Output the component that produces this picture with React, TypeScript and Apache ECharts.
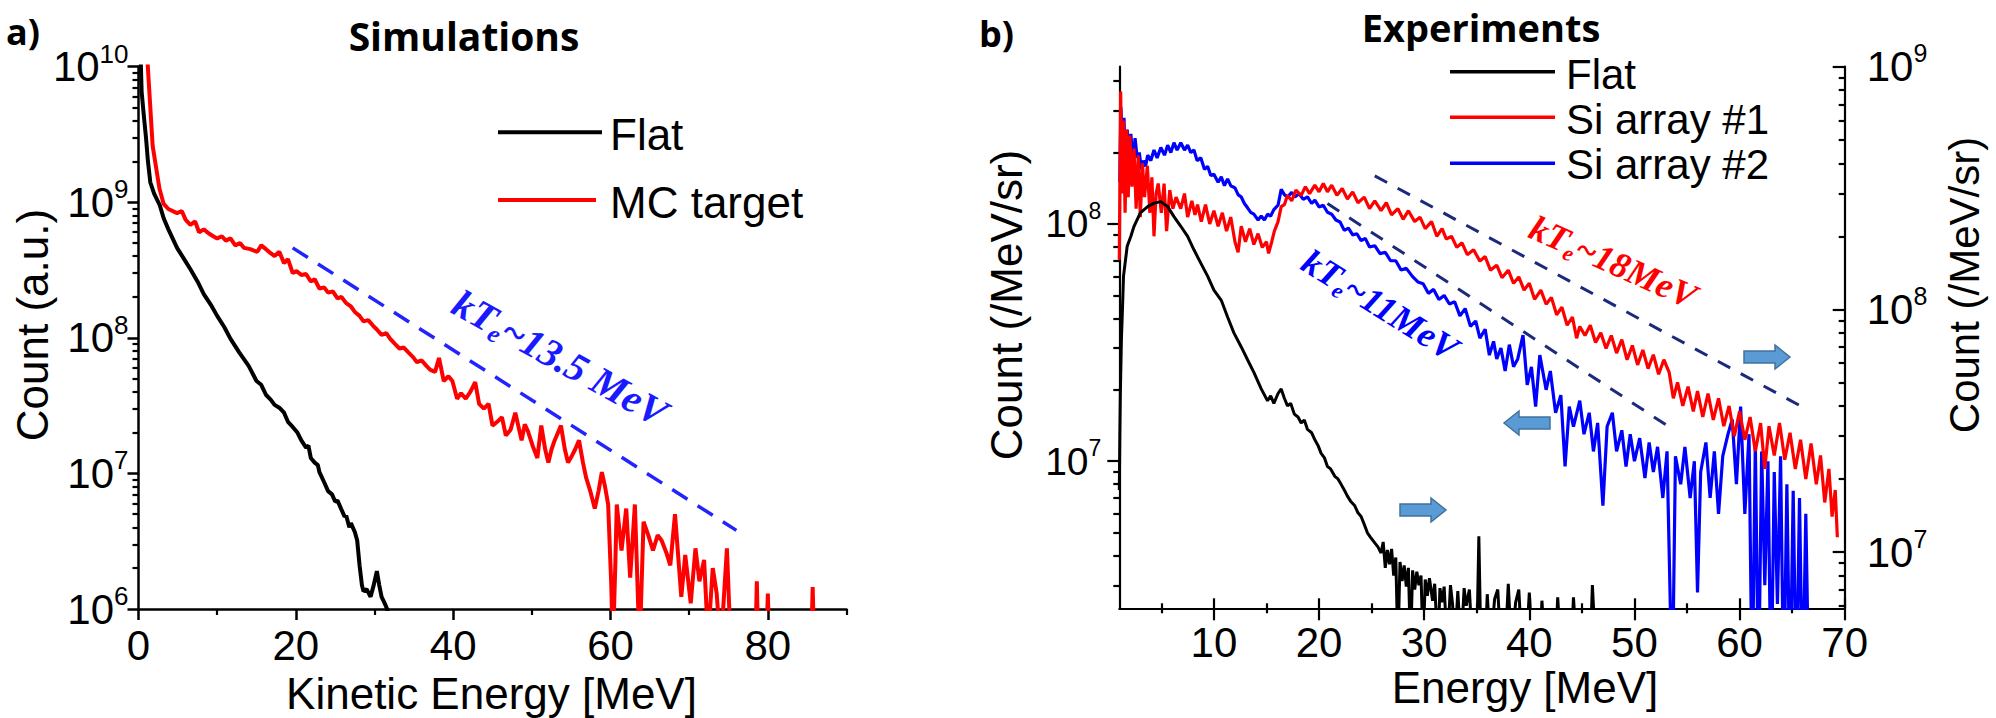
import React, { useEffect, useRef } from "react";
import * as echarts from "echarts";

// ---------- Panel a) Simulations : [Kinetic energy (MeV), count (a.u.)] ----------
const simFlat: [number, number][] = [
  [0.25, 1.3e10], [0.4, 6.5e9], [0.7, 4.2e9], [0.95, 3.0e9], [1.2, 2.0e9], [1.5, 1.4e9], [2.0, 1.15e9],
  [2.7, 9.5e8], [3.2, 7.6e8], [3.8, 6.3e8], [4.9, 4.6e8], [5.8, 3.8e8], [6.6, 3.2e8], [7.5, 2.6e8],
  [8.3, 2.1e8], [9.2, 1.75e8], [10.0, 1.45e8], [10.9, 1.2e8], [11.7, 9.8e7], [12.8, 7.8e7], [14.0, 6.2e7],
  [15.0, 4.8e7], [15.6, 4.5e7], [16.2, 3.8e7], [16.8, 3.5e7], [17.3, 3.2e7], [17.9, 3.05e7], [18.5, 2.8e7],
  [19.0, 2.4e7], [19.6, 2.2e7], [20.2, 2.0e7], [20.7, 1.75e7], [21.3, 1.55e7], [21.6, 1.6e7], [21.9, 1.3e7],
  [22.4, 1.2e7], [22.8, 1.15e7], [23.0, 1.02e7], [23.6, 8.6e6], [24.1, 7.4e6], [24.6, 7.0e6], [25.0, 6.2e6],
  [25.3, 6.3e6], [25.8, 5.4e6], [26.2, 4.8e6], [26.4, 4.9e6], [26.8, 4.0e6], [27.0, 4.3e6], [27.5, 3.7e6],
  [27.8, 3.2e6], [28.1, 2.1e6], [28.4, 1.5e6], [28.6, 1.35e6], [29.0, 1.4e6], [29.5, 1.23e6], [29.9, 1.5e6],
  [30.3, 1.9e6], [30.6, 1.5e6], [30.9, 1.23e6], [31.3, 1.1e6], [31.6, 1.0e6], [32.0, 7e5],
];
const simMC: [number, number][] = [
  [1.1, 1.2e10], [1.8, 2.6e9], [2.66, 1.26e9], [3.2, 9.7e8], [3.8, 8.9e8], [4.9, 8.3e8], [5.5, 8.6e8],
  [6.0, 7.4e8], [6.6, 6.8e8], [7.2, 7.2e8], [7.7, 6.0e8], [8.3, 6.3e8], [8.9, 5.9e8], [9.5, 5.6e8],
  [10.0, 5.4e8], [10.6, 5.6e8], [11.1, 5.2e8], [11.7, 5.4e8], [12.3, 4.8e8], [12.9, 5.0e8], [13.4, 4.6e8],
  [14.2, 4.5e8], [15.1, 4.3e8], [15.6, 4.8e8], [16.2, 4.5e8], [16.8, 4.2e8], [17.3, 4.0e8], [17.9, 4.3e8],
  [18.5, 3.55e8], [19.0, 3.8e8], [19.6, 3.0e8], [20.1, 3.1e8], [20.7, 2.9e8], [21.3, 2.95e8], [21.9, 2.6e8],
  [22.4, 2.7e8], [23.0, 2.3e8], [23.6, 2.35e8], [24.1, 2.15e8], [24.7, 2.2e8], [25.3, 1.95e8], [25.8, 2.0e8],
  [26.4, 1.8e8], [27.0, 1.7e8], [27.5, 1.55e8], [28.1, 1.45e8], [28.6, 1.32e8], [29.2, 1.35e8], [29.8, 1.23e8],
  [30.3, 1.15e8], [30.9, 1.05e8], [31.5, 1.08e8], [32.0, 9.8e7], [32.6, 9.0e7], [33.2, 8.3e7], [33.7, 8.5e7],
  [34.3, 7.8e7], [34.9, 7.2e7], [35.4, 6.6e7], [36.0, 6.8e7], [36.6, 6.2e7], [37.1, 5.8e7], [37.7, 5.6e7],
  [38.2, 7.1e7], [38.8, 4.8e7], [39.4, 5.2e7], [39.9, 4.8e7], [40.5, 3.55e7], [41.0, 3.9e7], [41.6, 3.55e7],
  [42.2, 4.0e7], [42.8, 4.7e7], [43.3, 3.25e7], [43.9, 3.0e7], [44.5, 3.25e7], [45.0, 2.25e7], [45.6, 2.4e7],
  [46.2, 2.6e7], [46.7, 1.9e7], [47.3, 2.1e7], [47.9, 2.8e7], [48.7, 1.75e7], [49.1, 2.3e7], [49.5, 2.05e7],
  [50.1, 1.6e7], [50.7, 1.3e7], [51.2, 2.25e7], [51.7, 1.5e7], [52.1, 1.2e7], [52.5, 1.5e7], [52.9, 1.75e7],
  [53.7, 2.25e7], [54.2, 1.5e7], [54.6, 1.2e7], [55.1, 1.35e7], [55.5, 1.5e7], [56.0, 1.75e7], [56.5, 1.2e7],
  [56.9, 9.3e6], [57.4, 7.5e6], [58.0, 5.5e6], [58.5, 7.5e6], [58.9, 1.02e7], [59.3, 8e6], [59.7, 5.9e6],
  [60.1, 1.5e6], [60.3, 5e5], [60.6, 2e6], [60.8, 5.9e6], [61.1, 4e6], [61.4, 2.7e6], [62.0, 5.5e6],
  [62.5, 1.7e6], [63.1, 5.9e6], [63.7, 5e5], [64.2, 4.4e6], [64.8, 3.5e6], [65.4, 2.7e6], [66.0, 3.5e6],
  [66.5, 3.2e6], [67.1, 2.6e6], [67.6, 2.1e6], [68.2, 5.0e6], [69.0, 1.23e6], [69.5, 2.5e6], [70.2, 1.1e6],
  [70.8, 2.8e6], [71.3, 1.6e6], [71.9, 2.3e6], [72.4, 6e5], [73.0, 2.0e6], [73.5, 1.3e6], [74.0, 5e5],
  [74.8, 2.8e6], [75.3, 5e5], [78.4, 5e5], [78.6, 1.6e6], [78.8, 5e5], [79.8, 5e5], [80.0, 1.3e6],
  [80.2, 5e5], [85.5, 5e5], [85.7, 1.45e6], [85.9, 5e5],
];
const simFit: [number, number][] = [[19.6, 4.6e8], [76, 3.8e6]];

// ---------- Panel b) Experiments : [Energy (MeV), count (/MeV/sr)] ----------
// Flat and Si array #1 are read on the right axis, Si array #2 on the left axis
const expFlat: [number, number][] = [
  [1.0, 1.8e7], [1.05, 3.0e7], [1.1, 4.5e7], [1.2, 7.5e7], [1.3, 1.0e8], [1.4, 1.37e8], [1.75, 1.82e8],
  [2.1, 2.0e8], [2.4, 2.2e8], [3.0, 2.5e8], [3.7, 2.65e8], [4.3, 2.74e8], [4.95, 2.78e8], [5.6, 2.65e8],
  [6.2, 2.41e8], [6.85, 2.2e8], [7.5, 2.0e8], [8.1, 1.76e8], [8.75, 1.55e8], [9.4, 1.37e8], [10.0, 1.2e8],
  [10.7, 1.09e8], [11.3, 9.3e7], [11.9, 8.0e7], [12.6, 7.0e7], [13.2, 6.2e7], [13.8, 5.5e7], [14.5, 4.7e7],
  [15.1, 4.2e7], [15.4, 4.4e7], [15.7, 4.1e7], [16.1, 4.5e7], [16.4, 4.7e7], [16.7, 4.3e7], [17.0, 4.0e7],
  [17.3, 4.1e7], [17.65, 3.7e7], [18.0, 3.6e7], [18.3, 3.4e7], [18.6, 3.5e7], [18.9, 3.2e7], [19.3, 3.1e7],
  [19.6, 2.9e7], [19.9, 2.75e7], [20.2, 2.55e7], [20.5, 2.45e7], [20.8, 2.25e7], [21.1, 2.2e7], [21.5, 2.05e7],
  [21.8, 2.0e7], [22.1, 1.9e7], [22.4, 1.8e7], [22.7, 1.7e7], [23.0, 1.62e7], [23.4, 1.55e7], [23.7, 1.45e7],
  [24.0, 1.4e7], [24.3, 1.3e7], [24.6, 1.2e7], [24.9, 1.15e7], [25.3, 1.09e7], [25.6, 1.05e7], [25.9, 9.9e6],
  [26.1, 1.1e7], [26.3, 8.6e6], [26.5, 1.02e7], [26.7, 8.9e6], [26.9, 1.03e7], [27.1, 8.0e6], [27.3, 9.5e6],
  [27.5, 4e6], [27.7, 9.1e6], [27.9, 7.6e6], [28.1, 8.8e6], [28.3, 7.2e6], [28.5, 8.6e6], [28.7, 4e6],
  [28.9, 8.4e6], [29.1, 7.0e6], [29.3, 8.3e6], [29.5, 7.3e6], [29.7, 8.0e6], [29.9, 4e6], [30.1, 7.7e6],
  [30.3, 6.6e6], [30.5, 7.8e6], [30.8, 6.3e6], [31.0, 7.4e6], [31.3, 4e6], [31.5, 7.1e6], [31.7, 6.2e6],
  [31.9, 7.2e6], [32.2, 4e6], [32.5, 7.3e6], [32.7, 6.1e6], [32.9, 4e6], [33.2, 6.9e6], [33.5, 4e6],
  [33.8, 7.1e6], [34.0, 6.0e6], [34.3, 7.0e6], [34.6, 4e6], [35.0, 4e6], [35.2, 1.16e7], [35.4, 4e6],
  [35.8, 4e6], [36.0, 6.7e6], [36.3, 4e6], [36.7, 6.4e6], [37.0, 7.0e6], [37.3, 4e6], [37.7, 4e6],
  [38.0, 7.4e6], [38.3, 4e6], [38.7, 6.2e6], [39.0, 7.0e6], [39.3, 4e6], [39.7, 4e6], [40.0, 6.8e6],
  [40.3, 4e6], [41.0, 4e6], [41.2, 6.3e6], [41.5, 4e6], [42.5, 4e6], [42.7, 6.5e6], [43.0, 4e6],
  [44.0, 4e6], [44.2, 6.5e6], [44.5, 4e6], [45.8, 4e6], [46.0, 7.3e6], [46.3, 4e6], [50.0, 4e6],
];
const expSi1: [number, number][] = [
  [1.0, 1.6e8], [1.13, 7.9e8], [1.25, 3.0e8], [1.4, 6.0e8], [1.55, 2.5e8], [1.7, 5.5e8], [1.85, 2.9e8],
  [2.0, 5.2e8], [2.2, 3.2e8], [2.4, 4.6e8], [2.6, 2.6e8], [2.8, 4.3e8], [3.0, 2.4e8], [3.2, 4.0e8],
  [3.4, 2.9e8], [3.67, 3.9e8], [3.9, 2.5e8], [4.1, 3.5e8], [4.3, 2.0e8], [4.5, 3.0e8], [4.7, 3.3e8],
  [5.0, 2.5e8], [5.26, 3.3e8], [5.5, 2.1e8], [5.8, 3.1e8], [6.1, 2.6e8], [6.4, 2.9e8], [6.85, 2.6e8],
  [7.2, 3.0e8], [7.5, 2.4e8], [7.9, 2.8e8], [8.2, 2.45e8], [8.44, 2.7e8], [8.8, 2.3e8], [9.2, 2.7e8],
  [9.6, 2.25e8], [10.0, 2.55e8], [10.4, 2.2e8], [10.8, 2.5e8], [11.2, 2.1e8], [11.6, 2.4e8], [12.0, 1.9e8],
  [12.3, 1.72e8], [12.6, 2.2e8], [13.0, 1.9e8], [13.4, 2.15e8], [13.8, 1.85e8], [14.2, 2.05e8], [14.6, 1.8e8],
  [15.0, 1.9e8], [15.2, 1.7e8], [15.5, 1.9e8], [15.75, 2.1e8], [16.1, 2.3e8], [16.4, 2.65e8], [16.7, 2.7e8],
  [17.0, 2.95e8], [17.4, 2.8e8], [17.8, 3.1e8], [18.3, 2.95e8], [18.7, 3.2e8], [19.1, 3.0e8], [19.6, 3.25e8],
  [20.0, 3.05e8], [20.4, 3.3e8], [20.8, 3.05e8], [21.2, 3.25e8], [21.7, 2.95e8], [22.2, 3.15e8], [22.7, 2.85e8],
  [23.2, 3.05e8], [23.7, 2.75e8], [24.3, 2.9e8], [24.8, 2.6e8], [25.3, 2.8e8], [25.9, 2.55e8], [26.4, 2.75e8],
  [26.9, 2.45e8], [27.5, 2.6e8], [28.0, 2.35e8], [28.5, 2.55e8], [29.1, 2.3e8], [29.6, 2.4e8], [30.1, 2.15e8],
  [30.7, 2.3e8], [31.2, 2.0e8], [31.7, 2.15e8], [32.1, 1.95e8], [32.6, 2.0e8], [33.1, 1.8e8], [33.6, 1.88e8],
  [34.1, 1.68e8], [34.7, 1.76e8], [35.3, 1.58e8], [35.8, 1.65e8], [36.3, 1.45e8], [36.9, 1.52e8], [37.4, 1.35e8],
  [38.0, 1.45e8], [38.5, 1.28e8], [39.0, 1.36e8], [39.5, 1.2e8], [40.0, 1.28e8], [40.5, 1.1e8], [41.1, 1.2e8],
  [41.6, 1.05e8], [42.1, 1.12e8], [42.6, 9.5e7], [43.1, 1.02e8], [43.6, 8.6e7], [44.1, 9.3e7], [44.5, 7.6e7],
  [44.8, 8.5e7], [45.3, 7.8e7], [45.8, 8.6e7], [46.3, 7.3e7], [46.8, 8.0e7], [47.3, 6.9e7], [47.8, 7.8e7],
  [48.3, 6.6e7], [48.8, 7.5e7], [49.3, 6.2e7], [49.8, 7.1e7], [50.3, 5.9e7], [50.8, 6.8e7], [51.3, 5.7e7],
  [51.8, 6.5e7], [52.3, 5.4e7], [52.8, 6.2e7], [53.3, 5.5e7], [53.7, 4.3e7], [54.1, 5.0e7], [54.6, 4.0e7],
  [55.1, 4.8e7], [55.6, 3.8e7], [56.0, 4.6e7], [56.5, 3.6e7], [57.0, 4.5e7], [57.5, 3.5e7], [58.0, 4.3e7],
  [58.5, 3.3e7], [59.0, 4.0e7], [59.5, 3.0e7], [60.0, 3.8e7], [60.5, 2.9e7], [61.0, 3.6e7], [61.5, 2.6e7],
  [62.0, 3.4e7], [62.4, 2.2e7], [62.8, 3.3e7], [63.3, 2.5e7], [63.8, 3.4e7], [64.3, 2.4e7], [64.8, 3.1e7],
  [65.3, 2.2e7], [65.8, 2.9e7], [66.3, 2.0e7], [66.8, 2.8e7], [67.3, 1.9e7], [67.7, 2.5e7], [68.1, 1.6e7],
  [68.5, 2.2e7], [68.8, 1.4e7], [69.1, 1.8e7], [69.3, 1.15e7],
];
const expSi2: [number, number][] = [
  [1.05, 1.5e8], [1.15, 3.1e8], [1.3, 2.2e8], [1.45, 2.8e8], [1.6, 1.3e8], [1.75, 2.5e8], [1.9, 1.9e8],
  [2.1, 2.4e8], [2.3, 1.8e8], [2.5, 2.3e8], [2.7, 1.9e8], [2.9, 2.0e8], [3.1, 1.7e8], [3.3, 1.85e8],
  [3.5, 1.75e8], [3.7, 1.95e8], [4.0, 1.85e8], [4.3, 2.05e8], [4.6, 1.9e8], [4.95, 2.1e8], [5.3, 1.95e8],
  [5.6, 2.15e8], [5.9, 2.0e8], [6.2, 2.2e8], [6.5, 2.05e8], [6.85, 2.2e8], [7.2, 2.05e8], [7.5, 2.15e8],
  [7.8, 2.0e8], [8.1, 2.05e8], [8.4, 1.85e8], [8.75, 1.9e8], [9.1, 1.7e8], [9.4, 1.75e8], [9.7, 1.6e8],
  [10.0, 1.62e8], [10.4, 1.5e8], [10.7, 1.58e8], [11.0, 1.45e8], [11.3, 1.55e8], [11.6, 1.45e8], [12.0, 1.42e8],
  [12.3, 1.33e8], [12.6, 1.3e8], [12.9, 1.22e8], [13.2, 1.17e8], [13.5, 1.12e8], [13.8, 1.1e8], [14.2, 1.04e8],
  [14.5, 1.08e8], [14.8, 1.04e8], [15.1, 1.1e8], [15.4, 1.08e8], [15.7, 1.15e8], [16.1, 1.2e8], [16.4, 1.4e8],
  [16.7, 1.33e8], [17.0, 1.3e8], [17.4, 1.36e8], [17.7, 1.3e8], [18.1, 1.34e8], [18.5, 1.27e8], [18.9, 1.3e8],
  [19.3, 1.22e8], [19.6, 1.26e8], [20.0, 1.18e8], [20.4, 1.2e8], [20.8, 1.12e8], [21.2, 1.1e8], [21.6, 1.04e8],
  [22.0, 1.02e8], [22.4, 9.4e7], [22.8, 9.6e7], [23.2, 9.0e7], [23.6, 9.1e7], [24.0, 8.5e7], [24.4, 8.7e7],
  [24.8, 8.0e7], [25.3, 8.1e7], [25.8, 7.5e7], [26.3, 7.6e7], [26.8, 7.0e7], [27.3, 7.0e7], [27.8, 6.4e7],
  [28.3, 6.5e7], [28.9, 6.0e7], [29.4, 5.7e7], [29.9, 5.6e7], [30.4, 5.1e7], [30.9, 5.3e7], [31.4, 4.8e7],
  [31.9, 5.0e7], [32.4, 4.6e7], [32.9, 4.7e7], [33.4, 4.1e7], [33.9, 4.4e7], [34.4, 3.7e7], [34.9, 3.9e7],
  [35.3, 3.3e7], [35.8, 3.6e7], [36.2, 2.8e7], [36.6, 3.2e7], [36.9, 2.7e7], [37.3, 3.0e7], [37.7, 2.4e7],
  [38.1, 3.1e7], [38.5, 2.5e7], [38.9, 2.7e7], [39.4, 3.4e7], [39.8, 2.1e7], [40.2, 2.5e7], [40.6, 1.7e7],
  [41.0, 2.8e7], [41.6, 2.0e7], [42.0, 2.4e7], [42.5, 1.6e7], [43.0, 1.9e7], [43.4, 9.5e6], [43.8, 1.7e7],
  [44.2, 1.4e7], [44.8, 1.8e7], [45.2, 1.3e7], [45.7, 1.6e7], [46.1, 1.1e7], [46.5, 1.45e7], [47.0, 6.5e6],
  [47.4, 1.4e7], [47.9, 1.6e7], [48.3, 1.1e7], [48.8, 1.35e7], [49.2, 9.5e6], [49.6, 1.3e7], [50.0, 1.0e7],
  [50.5, 1.25e7], [51.0, 8.5e6], [51.4, 1.2e7], [51.8, 9e6], [52.2, 1.15e7], [52.7, 7e6], [53.1, 1.1e7],
  [53.6, 1.0e6], [53.9, 1.05e7], [54.4, 8e6], [54.8, 1.15e7], [55.3, 7e6], [55.7, 1.0e7], [56.0, 2.8e6],
  [56.3, 9e6], [56.8, 1.2e7], [57.2, 7e6], [57.6, 1.1e7], [58.0, 6e6], [58.4, 1.05e7], [58.9, 1.3e7],
  [59.3, 1.5e7], [59.7, 8e6], [60.1, 1.7e7], [60.5, 6e6], [60.9, 1.3e7], [61.2, 1.0e6], [61.5, 1.2e7],
  [61.8, 1.0e6], [62.1, 1.1e7], [62.4, 3e6], [62.7, 1.0e7], [63.0, 1.0e6], [63.3, 9e6], [63.6, 2.5e6],
  [63.9, 1.05e7], [64.2, 1.0e6], [64.5, 8e6], [64.8, 1.0e6], [65.1, 7.5e6], [65.4, 1.0e6], [65.7, 7e6],
  [66.0, 1.0e6], [66.3, 6e6], [66.6, 1.0e6],
];
const expSi1Fit: [number, number][] = [[25.3, 3.55e8], [65.8, 4.0e7]];
const expSi2Fit: [number, number][] = [[20.8, 1.22e8], [53.8, 1.35e7]];

// ---------- tick labels ----------
const simXLabels = [0, 20, 40, 60, 80];
const simXMinor = [10, 30, 50, 70, 90];
const simYDecades = [6, 7, 8, 9, 10];
const expXLabels = [10, 20, 30, 40, 50, 60, 70];
const expXMinor = [5, 15, 25, 35, 45, 55, 65];
const expLeftDecades = [7, 8];
const expRightDecades = [7, 8, 9];

const SANS = "'Liberation Sans', Arial, sans-serif";
const SERIF = "'Liberation Serif', 'Times New Roman', serif";
const BOLD = "'Open Sans', 'Noto Sans', sans-serif";

const lg = (d: [number, number][]) => d.map(([x, y]) => [x, Math.log10(y)]);

function minorLogs(lo: number, hi: number): number[] {
  const out: number[] = [];
  for (let n = Math.floor(lo); n < Math.ceil(hi); n++) {
    for (let k = 2; k <= 9; k++) {
      const v = n + Math.log10(k);
      if (v > lo && v < hi) out.push(v);
    }
  }
  return out;
}

function arrow(cx: number, cy: number, dir: number) {
  const p = [[-23, -6], [8, -6], [8, -12], [23, 0], [8, 12], [8, 6], [-23, 6]];
  return {
    type: "polygon",
    shape: { points: p.map(([x, y]) => [cx + dir * x, cy + y]) },
    style: { fill: "#5b9bd5", stroke: "#41719c", lineWidth: 1.5 },
  };
}

function tex(x: number, y: number, text: string, size: number, extra: any = {}) {
  return {
    type: "text",
    x,
    y,
    rotation: extra.rotation || 0,
    style: {
      text,
      fill: extra.color || "#000",
      fontSize: size,
      fontFamily: extra.family || SANS,
      fontWeight: extra.weight || "normal",
      align: extra.align || "center",
      verticalAlign: "middle",
      rich: extra.rich,
    },
  };
}

function ktRich(color: string, size: number) {
  const base = { fontFamily: SERIF, fontWeight: "bold", fontStyle: "italic", fill: color, color, fontSize: size, lineHeight: size + 6 };
  return {
    m: base,
    e: { ...base, fontSize: Math.round(size * 0.62), lineHeight: Math.round(size * 0.62), verticalAlign: "bottom" },
  };
}

const yLabelFmt = (v: number) => `{b|10}{s|${Math.round(v)}}`;
const yRich = (b: number, s: number) => ({
  b: { fontSize: b, lineHeight: b + 10, fontFamily: SANS, color: "#000" },
  s: { fontSize: s, lineHeight: s, fontFamily: SANS, color: "#000", verticalAlign: "top" },
});

const axLine = (w: number) => ({ show: true, onZero: false, lineStyle: { color: "#000", width: w } });
const hidden = { show: false };

function tickAxis(grid: number, min: number, max: number, values: number[], length: number, inside: boolean, position: string) {
  return {
    type: "value",
    gridIndex: grid,
    min,
    max,
    position,
    axisLine: { show: false, onZero: false },
    axisTick: { show: true, customValues: values, length, inside, lineStyle: { color: "#000", width: 2.2 } },
    axisLabel: { show: false },
    splitLine: hidden,
  };
}

export default function App() {
  const ref = useRef<HTMLDivElement>(null);
  useEffect(() => {
    const chart = echarts.init(ref.current!, null, { renderer: "svg" });
    const simYMin = 6, simYMax = 10;
    const lMin = 6.38, lMax = 8.663;
    const rMin = 6.768, rMax = 9.0;
    const option: any = {
      animation: false,
      backgroundColor: "#fff",
      grid: [
        { left: 138.5, top: 66.5, width: 708, height: 542.5, outerBoundsMode: "none" },
        { left: 1119.3, top: 66.7, width: 725.4, height: 541.6, outerBoundsMode: "none" },
      ],
      xAxis: [
        {
          type: "value", gridIndex: 0, min: 0, max: 90, position: "bottom",
          axisLine: axLine(2.5),
          axisTick: { show: true, customValues: simXLabels, length: 11, lineStyle: { color: "#000", width: 2.5 } },
          axisLabel: { customValues: simXLabels, fontSize: 42, color: "#000", fontFamily: SANS, margin: 15 },
          splitLine: hidden,
        },
        tickAxis(0, 0, 90, simXMinor, 6, false, "bottom"),
        {
          type: "value", gridIndex: 1, min: 1, max: 70, position: "bottom",
          axisLine: axLine(2.2),
          axisTick: { show: true, customValues: expXLabels, length: 12, lineStyle: { color: "#000", width: 2.2 } },
          axisLabel: { customValues: expXLabels, fontSize: 42, color: "#000", fontFamily: SANS, margin: 13 },
          splitLine: hidden,
        },
        tickAxis(1, 1, 70, expXLabels, 10, true, "bottom"),
        tickAxis(1, 1, 70, expXMinor, 5, false, "bottom"),
        tickAxis(1, 1, 70, expXMinor, 5, true, "bottom"),
      ],
      yAxis: [
        {
          type: "value", gridIndex: 0, min: simYMin, max: simYMax, position: "left",
          axisLine: axLine(2.5),
          axisTick: { show: true, customValues: simYDecades, length: 11, lineStyle: { color: "#000", width: 2.5 } },
          axisLabel: { customValues: simYDecades, formatter: yLabelFmt, rich: yRich(42, 26), margin: 10 },
          splitLine: hidden,
        },
        tickAxis(0, simYMin, simYMax, minorLogs(simYMin, simYMax), 6, false, "left"),
        {
          type: "value", gridIndex: 1, min: lMin, max: lMax, position: "left",
          axisLine: axLine(2.2),
          axisTick: { show: true, customValues: expLeftDecades, length: 12, lineStyle: { color: "#000", width: 2.2 } },
          axisLabel: { customValues: expLeftDecades, formatter: yLabelFmt, rich: yRich(39, 23), margin: 18 },
          splitLine: hidden,
        },
        tickAxis(1, lMin, lMax, minorLogs(lMin, lMax), 6, false, "left"),
        {
          type: "value", gridIndex: 1, min: rMin, max: rMax, position: "right",
          axisLine: axLine(2.2),
          axisTick: { show: true, customValues: expRightDecades, length: 12, inside: true, lineStyle: { color: "#000", width: 2.2 } },
          axisLabel: { customValues: expRightDecades, formatter: yLabelFmt, rich: yRich(42, 25), margin: 22 },
          splitLine: hidden,
        },
        tickAxis(1, rMin, rMax, minorLogs(rMin, rMax), 6, true, "right"),
      ],
      series: [
        { name: "Flat", type: "line", xAxisIndex: 0, yAxisIndex: 0, data: lg(simFlat), symbol: "none", lineStyle: { color: "#000", width: 4 }, z: 3 },
        { name: "MC target", type: "line", xAxisIndex: 0, yAxisIndex: 0, data: lg(simMC), symbol: "none", lineStyle: { color: "#ff0000", width: 4 }, z: 4 },
        { name: "kTe~13.5 MeV", type: "line", xAxisIndex: 0, yAxisIndex: 0, data: lg(simFit), symbol: "none", lineStyle: { color: "#2323ff", width: 3.5, type: [18, 12] }, z: 5 },
        { name: "Si array #2", type: "line", xAxisIndex: 2, yAxisIndex: 2, data: lg(expSi2), symbol: "none", lineStyle: { color: "#0000ff", width: 3.2 }, z: 3 },
        { name: "Si array #1", type: "line", xAxisIndex: 2, yAxisIndex: 4, data: lg(expSi1), symbol: "none", lineStyle: { color: "#ff0000", width: 3.2 }, z: 4 },
        { name: "Flat (exp)", type: "line", xAxisIndex: 2, yAxisIndex: 4, data: lg(expFlat), symbol: "none", lineStyle: { color: "#000", width: 3 }, z: 5 },
        { name: "kTe~18MeV", type: "line", xAxisIndex: 2, yAxisIndex: 4, data: lg(expSi1Fit), symbol: "none", lineStyle: { color: "#1b2a7c", width: 3, type: [14, 12] }, z: 6 },
        { name: "kTe~11MeV", type: "line", xAxisIndex: 2, yAxisIndex: 2, data: lg(expSi2Fit), symbol: "none", lineStyle: { color: "#1b2a7c", width: 3, type: [14, 12] }, z: 6 },
      ],
      graphic: [
        // panel labels and titles
        tex(6, 31, "a)", 36, { family: BOLD, weight: "bold", align: "left" }),
        tex(979, 33, "b)", 36, { family: BOLD, weight: "bold", align: "left" }),
        tex(464, 35, "Simulations", 39, { family: BOLD, weight: "bold" }),
        tex(1481, 27, "Experiments", 38, { family: BOLD, weight: "bold" }),
        // axis titles
        tex(491.5, 693, "Kinetic Energy [MeV]", 44),
        tex(32.5, 325, "Count (a.u.)", 44, { rotation: Math.PI / 2 }),
        tex(1525, 687, "Energy [MeV]", 44),
        tex(1006, 305, "Count (/MeV/sr)", 44, { rotation: Math.PI / 2 }),
        tex(1964.5, 285, "Count (/MeV/sr)", 42, { rotation: Math.PI / 2 }),
        // legend a)
        { type: "line", shape: { x1: 498, y1: 132.3, x2: 602, y2: 132.3 }, style: { stroke: "#000", lineWidth: 4 } },
        { type: "line", shape: { x1: 498, y1: 200, x2: 596, y2: 200 }, style: { stroke: "#ff0000", lineWidth: 4 } },
        tex(610, 134, "Flat", 44, { align: "left" }),
        tex(610, 202, "MC target", 44, { align: "left" }),
        // legend b)
        { type: "line", shape: { x1: 1450, y1: 71.7, x2: 1555, y2: 71.7 }, style: { stroke: "#000", lineWidth: 3.5 } },
        { type: "line", shape: { x1: 1450, y1: 117.3, x2: 1555, y2: 117.3 }, style: { stroke: "#ff0000", lineWidth: 3.5 } },
        { type: "line", shape: { x1: 1450, y1: 163.3, x2: 1555, y2: 163.3 }, style: { stroke: "#0000ff", lineWidth: 3.5 } },
        tex(1566, 74, "Flat", 42, { align: "left" }),
        tex(1566, 119, "Si array #1", 42, { align: "left" }),
        tex(1566, 164.5, "Si array #2", 42, { align: "left" }),
        // temperature annotations
        tex(560, 358, "{m|kT}{e|e}{m|~13.5 MeV}", 40, { rotation: -29 * Math.PI / 180, rich: ktRich("#1a1aff", 40) }),
        tex(1613, 262, "{m|kT}{e|e}{m|~18MeV}", 36, { rotation: -24 * Math.PI / 180, rich: ktRich("#ff0000", 36) }),
        tex(1380, 305, "{m|kT}{e|e}{m|~11MeV}", 36, { rotation: -32 * Math.PI / 180, rich: ktRich("#0000ff", 36) }),
        // axis-assignment arrows
        arrow(1767, 357, 1),
        arrow(1527, 423, -1),
        arrow(1423, 510, 1),
      ],
    };
    chart.setOption(option);
    return () => chart.dispose();
  }, []);
  return (
    <div
      ref={ref}
      style={{ position: "fixed", left: 0, top: 0, width: 1996, height: 718, background: "#fff" }}
    />
  );
}
